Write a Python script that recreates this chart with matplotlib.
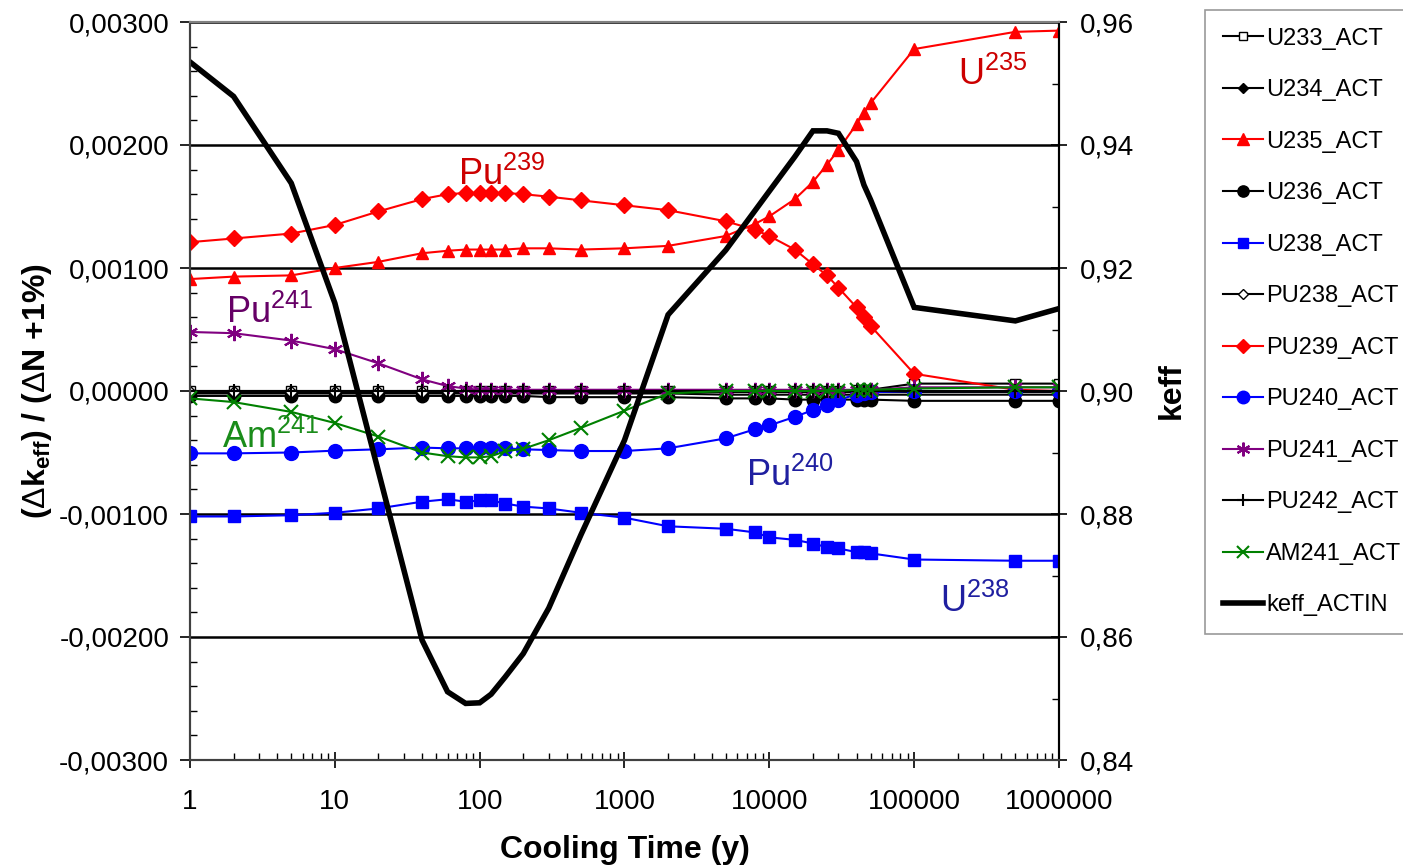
import matplotlib
matplotlib.use('Agg')
import matplotlib.pyplot as plt
from matplotlib.ticker import FuncFormatter, MultipleLocator, LogLocator, NullFormatter

plt.rcParams['font.family'] = ['Liberation Sans', 'DejaVu Sans']
plt.rcParams['mathtext.fontset'] = 'custom'
plt.rcParams['mathtext.rm'] = 'Liberation Sans'
plt.rcParams['mathtext.bf'] = 'Liberation Sans:bold'
plt.rcParams['mathtext.it'] = 'Liberation Sans:italic'

# cooling time (years)
cool_time = [1, 2, 5, 10, 20, 40, 60, 80, 100, 120, 150, 200, 300, 500, 1000, 2000,
             5000, 8000, 10000, 15000, 20000, 25000, 30000, 40000, 45000, 50000,
             100000, 500000, 1000000]

# sensitivities (dk/k per +1% dN)
u233 = [0.0, 0.0, 0.0, 0.0, 0.0, 0.0, 0.0, 0.0, 0.0, 0.0, 0.0, 0.0, 0.0, 0.0, 0.0, 0.0,
        0.0, 0.0, 0.0, 0.0, 0.0, 0.0, 0.0, 0.00001, 0.00001, 0.00001, 0.00006, 0.00006, 0.00006]
u234 = [-0.00002, -0.00002, -0.00002, -0.00002, -0.00002, -0.00002, -0.00002, -0.00002,
        -0.00002, -0.00002, -0.00002, -0.00002, -0.00002, -0.00002, -0.00002, -0.00002,
        -0.00003, -0.00003, -0.00003, -0.00003, -0.00003, -0.00003, -0.00003, -0.00003,
        -0.00003, -0.00003, -0.00003, -0.00003, -0.00003]
u235 = [0.00091, 0.00093, 0.00094, 0.00100, 0.00105, 0.00112, 0.00114, 0.00115, 0.00115,
        0.00115, 0.00115, 0.00116, 0.00116, 0.00115, 0.00116, 0.00118, 0.00126, 0.00136,
        0.00142, 0.00156, 0.00170, 0.00184, 0.00196, 0.00217, 0.00226, 0.00234, 0.00278,
        0.00292, 0.00293]
u236 = [-0.00004, -0.00004, -0.00004, -0.00004, -0.00004, -0.00004, -0.00004, -0.00004,
        -0.00004, -0.00004, -0.00004, -0.00004, -0.00005, -0.00005, -0.00005, -0.00005,
        -0.00006, -0.00006, -0.00006, -0.00007, -0.00007, -0.00007, -0.00007, -0.00007,
        -0.00007, -0.00007, -0.00008, -0.00008, -0.00008]
u238 = [-0.00102, -0.00102, -0.00101, -0.00099, -0.000955, -0.00090, -0.00088, -0.00090,
        -0.00089, -0.00089, -0.000915, -0.00094, -0.000955, -0.00099, -0.00103, -0.00110,
        -0.00112, -0.00115, -0.00119, -0.00121, -0.00124, -0.00127, -0.00128, -0.00131,
        -0.00131, -0.00132, -0.00137, -0.00138, -0.00138]
pu238 = [-0.00001, -0.00001, -0.00001, -0.00001, -0.00001, -0.00001, -0.00001, -0.00001,
         -0.00001, -0.00001, -0.00001, -0.00001, -0.00001, -0.00001, -0.00001, -0.00001,
         -0.00001, -0.00001, -0.00001, -0.00001, -0.00001, -0.00001, -0.00001, -0.00001,
         -0.00001, -0.00001, -0.00001, -0.00001, -0.00001]
pu239 = [0.00121, 0.00124, 0.00128, 0.00135, 0.00146, 0.00156, 0.00160, 0.00161, 0.00161,
         0.00161, 0.00161, 0.00160, 0.00158, 0.00155, 0.00151, 0.00147, 0.00138, 0.00131,
         0.00126, 0.00115, 0.00103, 0.00094, 0.00084, 0.00068, 0.00060, 0.00053, 0.00014,
         0.00001, 0.0]
pu240 = [-0.000507, -0.000507, -0.00050, -0.000485, -0.000474, -0.00046, -0.000466,
         -0.000466, -0.000466, -0.000466, -0.000466, -0.000474, -0.00048, -0.000488,
         -0.000488, -0.000466, -0.000385, -0.00031, -0.00028, -0.00021, -0.000155,
         -0.00011, -0.00007, -0.00003, -0.00002, -0.00001, 0.0, 0.0, 0.0]
pu241 = [0.00048, 0.00047, 0.00041, 0.00034, 0.000225, 0.000095, 0.00004, 0.00002, 0.00001,
         0.00001, 0.00001, 0.00001, 0.00001, 0.00001, 0.00001, 0.00001, 0.00001, 0.00001,
         0.00001, 0.00001, 0.00001, 0.00001, 0.00001, 0.00001, 0.00001, 0.00001, 0.00003,
         0.00003, 0.00003]
pu242 = [0.0, 0.0, 0.0, 0.0, 0.0, 0.0, 0.0, 0.0, 0.0, 0.0, 0.0, 0.0, 0.0, 0.0, 0.0, 0.0,
         0.0, 0.0, 0.0, 0.0, 0.0, 0.0, 0.0, 0.0, 0.0, 0.0, 0.0, 0.0, 0.0]
am241 = [-0.00006, -0.00009, -0.00017, -0.00026, -0.00037, -0.00050, -0.00053, -0.00054,
         -0.00054, -0.00053, -0.00049, -0.00047, -0.00040, -0.00030, -0.00016, -0.00002,
         0.0, 0.0, 0.0, 0.0, 0.0, 0.0, 0.0, 0.00001, 0.00001, 0.00001, 0.00002, 0.00003,
         0.00003]
keff = [0.9535, 0.9479, 0.9338, 0.9143, 0.8869, 0.8595, 0.8511, 0.8492, 0.8493, 0.8507,
        0.8535, 0.8573, 0.8647, 0.8766, 0.8920, 0.9124, 0.9229, 0.9294, 0.9325, 0.9381,
        0.9423, 0.9423, 0.9419, 0.9373, 0.9335, 0.9311, 0.9136, 0.9114, 0.9134]

fig = plt.figure(figsize=(14.03, 8.65), dpi=100)
ax = fig.add_axes([190 / 1403, 1 - 760 / 865, 869 / 1403, 738 / 865])
ax2 = ax.twinx()

lw = 1.5
ax.plot(cool_time, u233, color='black', lw=lw, marker='s', ms=7, mfc='white', mec='black', label='U233_ACT')
ax.plot(cool_time, u234, color='black', lw=lw, marker='D', ms=6, mfc='black', mec='black', label='U234_ACT')
ax.plot(cool_time, u235, color='#FF0000', lw=lw, marker='^', ms=9, mfc='#FF0000', mec='#FF0000', label='U235_ACT')
ax.plot(cool_time, u236, color='black', lw=lw, marker='o', ms=9, mfc='black', mec='black', label='U236_ACT')
ax.plot(cool_time, u238, color='#0000FF', lw=lw, marker='s', ms=8, mfc='#0000FF', mec='#0000FF', label='U238_ACT')
ax.plot(cool_time, pu238, color='black', lw=lw, marker='D', ms=6, mfc='white', mec='black', label='PU238_ACT')
ax.plot(cool_time, pu239, color='#FF0000', lw=lw, marker='D', ms=8, mfc='#FF0000', mec='#FF0000', label='PU239_ACT')
ax.plot(cool_time, pu240, color='#0000FF', lw=lw, marker='o', ms=10, mfc='#0000FF', mec='#0000FF', label='PU240_ACT')
ax.plot(cool_time, pu241, color='#800080', lw=lw, marker=(6, 2, 0), ms=11, mec='#800080', mew=1.5, label='PU241_ACT')
ax.plot(cool_time, pu242, color='black', lw=lw, marker='+', ms=10, mec='black', mew=1.5, label='PU242_ACT')
ax.plot(cool_time, am241, color='#008000', lw=lw, marker='x', ms=10, mec='#008000', mew=1.5, label='AM241_ACT')
ax2.plot(cool_time, keff, color='black', lw=4, label='keff_ACTIN', solid_joinstyle='miter')

ax.set_xscale('log')
ax.set_xlim(1, 1000000)
ax.set_ylim(-0.003, 0.003)
ax2.set_ylim(0.84, 0.96)

ax.xaxis.set_major_locator(LogLocator(base=10, numticks=10))
ax.xaxis.set_minor_locator(LogLocator(base=10, subs=range(2, 10), numticks=20))
ax.xaxis.set_major_formatter(FuncFormatter(lambda v, p: f'{v:.0f}'))
ax.xaxis.set_minor_formatter(NullFormatter())

ax.yaxis.set_major_locator(MultipleLocator(0.001))
ax.yaxis.set_minor_locator(MultipleLocator(0.0002))
ax.yaxis.set_major_formatter(FuncFormatter(lambda v, p: f'{v:.5f}'.replace('.', ',').replace('-0,00000', '0,00000')))
ax2.yaxis.set_major_locator(MultipleLocator(0.02))
ax2.yaxis.set_minor_locator(MultipleLocator(0.01))
ax2.yaxis.set_major_formatter(FuncFormatter(lambda v, p: f'{v:.2f}'.replace('.', ',')))

ax.tick_params(axis='both', which='major', direction='out', length=7, width=1.2, labelsize=20, colors='black')
ax.tick_params(axis='y', which='major', pad=8)
ax.tick_params(axis='both', which='minor', direction='in', length=5, width=1)
ax.tick_params(axis='x', which='major', direction='inout', length=12, pad=15)
ax2.tick_params(axis='y', which='major', direction='inout', length=12, width=1.2, labelsize=20, pad=9)
ax2.tick_params(axis='y', which='minor', direction='in', length=5, width=1)

ax.grid(True, axis='y', which='major', color='black', lw=1.8)
ax.set_axisbelow(True)

for a in (ax, ax2):
    a.spines['top'].set_color('#808080')
    a.spines['left'].set_color('#404040')
    a.spines['bottom'].set_color('#404040')
    a.spines['right'].set_color('black')
    for s in a.spines.values():
        s.set_linewidth(1.5)

ax.set_xlabel('Cooling Time (y)', fontsize=23, fontweight='bold', labelpad=14)
ax.set_ylabel(r'($\Delta$k$_{\mathbf{eff}}$) / ($\Delta$N +1%)', fontsize=23, fontweight='bold', labelpad=4)
ax2.set_ylabel('keff', fontsize=23, fontweight='bold', labelpad=16)

# isotope annotations
ax.text(0.308, 0.779, r'Pu$^{\mathrm{239}}$', transform=ax.transAxes, color='#CC0000', fontsize=26, va='baseline')
ax.text(0.884, 0.915, r'U$^{\mathrm{235}}$', transform=ax.transAxes, color='#CC0000', fontsize=26, va='baseline')
ax.text(0.041, 0.592, r'Pu$^{\mathrm{241}}$', transform=ax.transAxes, color='#660066', fontsize=26, va='baseline')
ax.text(0.037, 0.423, r'Am$^{\mathrm{241}}$', transform=ax.transAxes, color='#1A8C1A', fontsize=26, va='baseline')
ax.text(0.640, 0.371, r'Pu$^{\mathrm{240}}$', transform=ax.transAxes, color='#1F1FA0', fontsize=26, va='baseline')
ax.text(0.863, 0.2005, r'U$^{\mathrm{238}}$', transform=ax.transAxes, color='#1F1FA0', fontsize=26, va='baseline')

h1, l1 = ax.get_legend_handles_labels()
h2, l2 = ax2.get_legend_handles_labels()
leg = fig.legend(h1 + h2, l1 + l2, loc='upper left', bbox_to_anchor=(1205 / 1403, 1 - 10 / 865),
                 bbox_transform=fig.transFigure, fontsize=17, frameon=True, fancybox=False,
                 edgecolor='#808080', handlelength=1.7, handletextpad=0.15, labelspacing=1.25,
                 borderpad=0.75, borderaxespad=0, markerscale=0.9)
leg.get_frame().set_linewidth(1.2)

fig.savefig('out.png', dpi=100)
